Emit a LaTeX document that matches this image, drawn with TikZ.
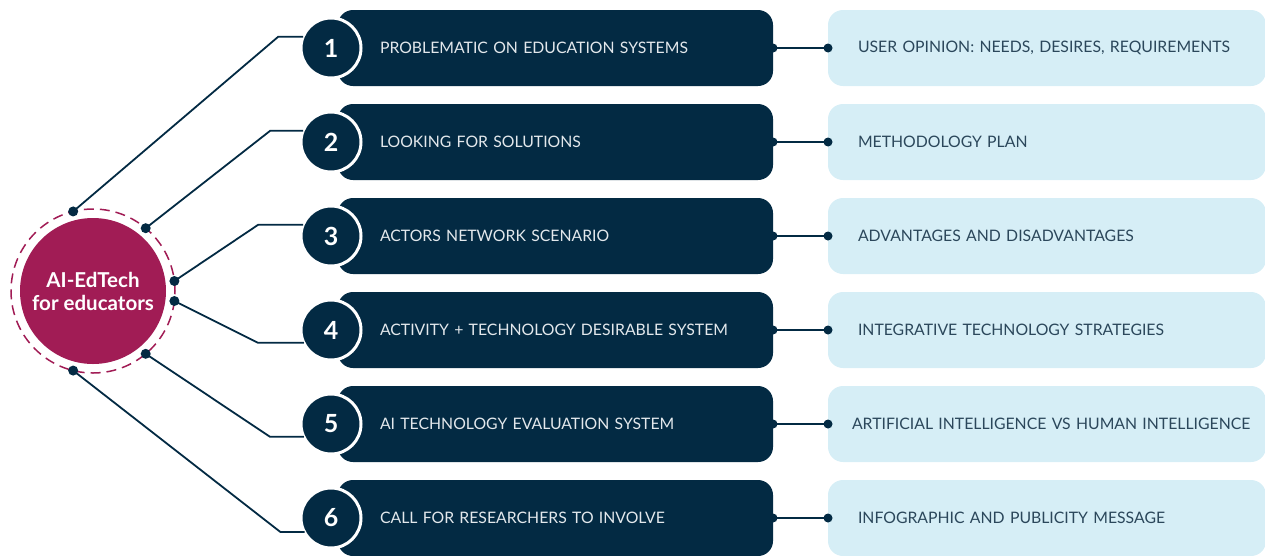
\documentclass[tikz,border=0pt]{standalone}
\usepackage{fontspec}
\setmainfont{Lato}
\usetikzlibrary{positioning}
\definecolor{navy}{HTML}{032A43}
\definecolor{hubred}{HTML}{A11C55}
\definecolor{paleblue}{HTML}{D6EEF6}
\definecolor{inktext}{HTML}{2B475B}
\definecolor{softwhite}{HTML}{E3E8EC}

\begin{document}
\begin{tikzpicture}[
  x=1pt, y=1pt,
  stepbox/.style={fill=navy, rounded corners=15pt, minimum height=76pt, inner xsep=42pt,
    text width=351pt, align=left, text=softwhite, font=\fontsize{15.8}{18}\selectfont, outer sep=0pt},
  resultbox/.style={fill=paleblue, rounded corners=15pt, minimum height=76pt, inner xsep=30pt,
    text width=378pt, align=left, text=inktext, font=\fontsize{15.8}{18}\selectfont, outer sep=0pt},
  numdisc/.style={circle, fill=navy, draw=white, line width=3pt, minimum size=60pt, inner sep=0pt,
    text=white, font=\bfseries\fontsize{25}{27}\selectfont, outer sep=0pt},
  link/.style={draw=navy, line width=1.8pt}
  ]
\useasboundingbox (0,0) rectangle (1265,-555);

% hub
\node[circle, draw=hubred, line width=1.5pt, dash pattern=on 10pt off 6pt, minimum size=164pt,
  inner sep=0pt, outer sep=0pt] (ring) at (93,-291) {};
\node[circle, fill=hubred, minimum size=146pt, inner sep=0pt, text=white, align=center,
  font=\bfseries\fontsize{20.5}{23}\selectfont] (hub) at (93,-291) {AI-EdTech\\for educators};

% steps
\node[stepbox] (d1) at (555.5,-48) {PROBLEMATIC ON EDUCATION SYSTEMS};
\node[stepbox, below=18pt of d1] (d2) {LOOKING FOR SOLUTIONS};
\node[stepbox, below=18pt of d2] (d3) {ACTORS NETWORK SCENARIO};
\node[stepbox, below=18pt of d3] (d4) {ACTIVITY + TECHNOLOGY DESIRABLE SYSTEM};
\node[stepbox, below=18pt of d4] (d5) {AI TECHNOLOGY EVALUATION SYSTEM};
\node[stepbox, below=18pt of d5] (d6) {CALL FOR RESEARCHERS TO INVOLVE};

\node[numdisc] (n1) at ([xshift=-7pt]d1.west) {1};
\node[numdisc] (n2) at ([xshift=-7pt]d2.west) {2};
\node[numdisc] (n3) at ([xshift=-7pt]d3.west) {3};
\node[numdisc] (n4) at ([xshift=-7pt]d4.west) {4};
\node[numdisc] (n5) at ([xshift=-7pt]d5.west) {5};
\node[numdisc] (n6) at ([xshift=-7pt]d6.west) {6};

% results
\node[resultbox, right=55pt of d1] (l1) {USER OPINION: NEEDS, DESIRES, REQUIREMENTS};
\node[resultbox, right=55pt of d2] (l2) {METHODOLOGY PLAN};
\node[resultbox, right=55pt of d3] (l3) {ADVANTAGES AND DISADVANTAGES};
\node[resultbox, right=55pt of d4] (l4) {INTEGRATIVE TECHNOLOGY STRATEGIES};
\node[resultbox, right=55pt of d5, inner xsep=24pt, text width=390pt] (l5) {\mbox{ARTIFICIAL INTELLIGENCE VS HUMAN INTELLIGENCE}};
\node[resultbox, right=55pt of d6] (l6) {INFOGRAPHIC AND PUBLICITY MESSAGE};

% hub to steps
\draw[link] (n1.158) -- ++(-25,0) -- (ring.104.5);
\draw[link] (n2.158) -- ++(-33,0) -- (ring.50);
\draw[link] (n3.158) -- ++(-45,0) -- (ring.7);
\draw[link] (n4.205) -- ++(-46,0) -- (ring.-7);
\draw[link] (n5.205) -- ++(-34,0) -- (ring.-50);
\draw[link] (n6.208) -- ++(-24,0) -- (ring.-104.5);
\foreach \a in {104.5,50,7,-7,-50,-104.5}
  \fill[navy] (ring.\a) circle (5pt);

% steps to results
\foreach \i in {1,...,6}{
  \draw[link] (d\i.east) -- (l\i.west);
  \fill[navy] (d\i.east) circle (4.5pt) (l\i.west) circle (4.5pt);
}
\end{tikzpicture}
\end{document}
